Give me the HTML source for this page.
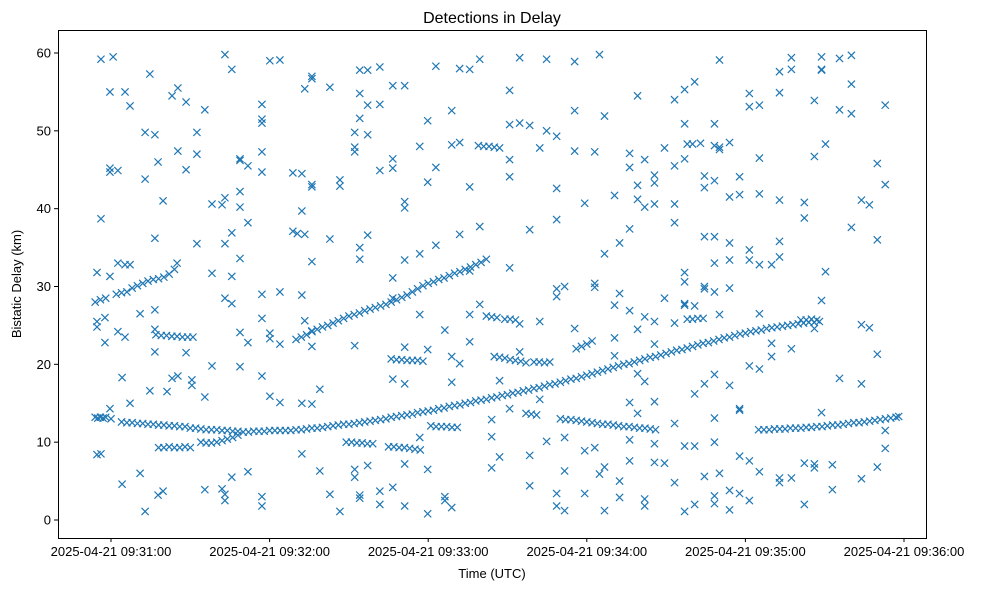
<!DOCTYPE html>
<html><head><meta charset="utf-8"><style>
body{margin:0;background:#fff;}
svg{display:block;font-family:"Liberation Sans","DejaVu Sans",sans-serif;}
</style></head><body>
<svg id="chart" width="987" height="590" xmlns="http://www.w3.org/2000/svg">
<rect width="987" height="590" fill="#fff"/>
<text x="492" y="23" font-size="16" text-anchor="middle">Detections in Delay</text>
<g id="marks"></g>
<rect x="58.5" y="30.5" width="868" height="508" fill="none" stroke="#000" stroke-width="1"/>
<g id="yticks"></g>
<g id="xticks"></g>
<text x="492" y="578" font-size="13" text-anchor="middle">Time (UTC)</text>
<text x="21" y="284" font-size="13" text-anchor="middle" transform="rotate(-90 21 284)">Bistatic Delay (km)</text>
</svg>
<script>
// time in seconds after 09:30:00, delay in km
const yTickValues=[0,10,20,30,40,50,60];
const xTickValues=[60,120,180,240,300,360];
const xTickLabels=["2025-04-21 09:31:00","2025-04-21 09:32:00","2025-04-21 09:33:00","2025-04-21 09:34:00","2025-04-21 09:35:00","2025-04-21 09:36:00"];
const mainTrack=[[128,11.5],[130,11.6],[132,11.6],[134,11.7],[136,11.8],[138,11.8],[140,11.9],[142,12.0],[144,12.1],[146,12.2],[148,12.3],[150,12.3],[152,12.4],[154,12.5],[156,12.6],[158,12.7],[160,12.8],[162,12.9],[164,13.0],[166,13.2],[168,13.3],[170,13.4],[172,13.5],[174,13.6],[176,13.8],[178,13.9],[180,14.0],[182,14.1],[184,14.3],[186,14.4],[188,14.6],[190,14.7],[192,14.8],[194,15.0],[196,15.1],[198,15.3],[200,15.4],[202,15.5],[204,15.7],[206,15.8],[208,16.0],[210,16.1],[212,16.3],[214,16.4],[216,16.6],[218,16.7],[220,16.9],[222,17.0],[224,17.2],[226,17.4],[228,17.5],[230,17.7],[232,17.9],[234,18.1],[236,18.2],[238,18.4],[240,18.6],[242,18.8],[244,19.0],[246,19.2],[248,19.4],[250,19.6],[252,19.8],[254,20.0],[256,20.1],[258,20.3],[260,20.5],[262,20.7],[264,20.9],[266,21.0],[268,21.2],[270,21.4],[272,21.6],[274,21.8],[276,21.9],[278,22.1],[280,22.3],[282,22.5],[284,22.7],[286,22.8],[288,23.0],[290,23.2],[292,23.4],[294,23.5],[296,23.7],[298,23.9],[300,24.0],[302,24.2],[304,24.3],[306,24.4],[308,24.6],[310,24.7],[312,24.8],[314,24.9],[316,25.0],[318,25.1],[320,25.2],[322,25.3],[324,25.4],[326,25.4],[328,25.5]];
const earlyLowTrack=[[54,13.2],[55,13.1],[56,13.2],[57,13.1],[58,13.2],[60,13.0],[64,12.6],[66,12.5],[68,12.5],[70,12.4],[72,12.4],[74,12.3],[76,12.3],[78,12.2],[80,12.2],[82,12.1],[84,12.1],[86,12.0],[88,12.0],[90,11.8],[92,11.8],[94,11.7],[96,11.6],[98,11.6],[100,11.6],[102,11.5],[104,11.5],[106,11.4],[108,11.4],[110,11.3],[112,11.3],[114,11.4],[116,11.4],[118,11.4],[120,11.5],[122,11.5],[124,11.5],[126,11.5]];
const earlyHighTrack=[[54,28.0],[56,28.3],[58,28.5],[62,29.0],[64,29.2],[66,29.3],[68,29.8],[70,30.1],[72,30.4],[74,30.7],[76,30.9],[78,31.0],[80,31.2],[82,31.6],[84,32.2],[85,33.0]];
const midHighTrack=[[130,23.2],[132,23.5],[134,23.8],[136,24.2],[138,24.5],[140,24.8],[142,25.0],[144,25.3],[146,25.6],[148,25.9],[150,26.2],[152,26.4],[154,26.6],[156,26.9],[158,27.1],[160,27.3],[162,27.5],[164,27.7],[166,28.0],[168,28.3],[170,28.6],[172,28.9],[174,29.3],[176,29.7],[178,30.1],[180,30.4],[182,30.6],[184,30.9],[186,31.1],[188,31.4],[190,31.7],[192,31.9],[194,32.2],[196,32.5],[198,32.8],[200,33.1],[202,33.5]];
const lateLowTrack=[[230,13.0],[232,12.9],[234,12.9],[236,12.8],[238,12.7],[240,12.6],[242,12.5],[244,12.4],[246,12.3],[248,12.3],[250,12.2],[252,12.1],[254,12.0],[256,12.0],[258,11.9],[260,11.8],[262,11.8],[264,11.7],[266,11.6],[305,11.6],[307,11.6],[309,11.6],[311,11.7],[313,11.7],[315,11.7],[317,11.8],[319,11.8],[321,11.8],[323,11.9],[325,11.9],[327,12.0],[329,12.0],[331,12.1],[333,12.2],[335,12.2],[337,12.3],[339,12.4],[341,12.5],[343,12.5],[345,12.6],[347,12.7],[349,12.8],[351,12.9],[353,13.0],[355,13.1],[357,13.2],[358,13.3]];
const shortSegments=[[78,9.3],[80,9.3],[82,9.4],[84,9.3],[86,9.3],[88,9.4],[90,9.3],[94,10.0],[96,9.9],[98,9.9],[100,10.0],[102,10.2],[104,10.4],[106,10.6],[108,10.9],[77,23.8],[79,23.7],[81,23.7],[83,23.6],[85,23.6],[87,23.5],[89,23.5],[91,23.5],[149,10.0],[151,10.0],[153,9.9],[155,9.9],[157,9.8],[159,9.8],[165,9.4],[167,9.4],[169,9.3],[171,9.3],[173,9.2],[175,9.1],[177,9.0],[181,12.1],[183,12.0],[185,12.0],[187,12.0],[189,11.9],[191,11.9],[166,20.7],[168,20.6],[170,20.6],[172,20.5],[174,20.5],[176,20.5],[178,20.4],[199,48.1],[201,48.0],[203,48.0],[205,47.9],[207,47.8],[202,26.2],[204,26.1],[206,26.0],[205,21.0],[207,20.9],[209,20.8],[211,20.6],[213,20.5],[215,20.4],[217,20.2],[209,25.8],[211,25.8],[213,25.7],[217,13.7],[219,13.6],[221,13.5],[220,20.3],[222,20.3],[224,20.2],[226,20.3],[236,22.0],[238,22.3],[240,22.6],[242,23.0],[278,25.8],[280,25.8],[282,25.9],[284,25.9],[278,48.3],[280,48.3],[283,48.4],[321,25.7],[323,25.7],[325,25.8],[327,25.7]];
const scatterPoints=[[54.7,31.8],[54.7,25.5],[54.7,24.8],[54.7,8.4],[56.2,59.2],[56.2,38.7],[56.2,8.5],[57.7,26],[57.7,22.8],[59.6,55],[59.6,45.2],[59.6,44.7],[59.6,14.3],[59.6,31.3],[60.8,59.5],[62.6,33],[62.6,24.2],[62.6,44.9],[64.2,18.3],[64.2,4.6],[65.3,55],[65.3,32.8],[65.3,23.5],[67.2,53.2],[67.2,32.8],[67.2,15],[71,26.5],[71,6],[72.9,49.8],[72.9,43.8],[72.9,1.1],[74.7,57.3],[74.7,16.6],[76.6,49.5],[76.6,36.2],[76.6,27],[76.6,21.6],[76.6,24.5],[77.8,46],[77.8,3.2],[79.7,41],[79.7,3.7],[81.2,16.5],[83.1,54.5],[83.1,18.2],[85.3,55.5],[85.3,47.4],[85.3,18.5],[88.4,53.7],[88.4,45],[88.4,21.5],[90.6,18],[90.6,17.3],[92.5,35.5],[92.5,49.8],[92.5,47],[95.5,52.7],[95.5,3.9],[95.5,15.8],[98.2,40.6],[98.2,19.8],[98.2,31.7],[102,40.5],[102,4],[103.1,59.8],[103.1,41.4],[103.1,35.5],[103.1,28.5],[103.1,3.3],[103.1,2.5],[105.7,57.9],[105.7,27.8],[105.7,31.3],[105.7,36.9],[105.7,5.5],[108.8,33.6],[108.8,40.2],[108.8,42.2],[108.8,46.2],[108.8,46.4],[108.8,24.1],[108.8,19.7],[111.8,45.5],[111.8,22.8],[111.8,38.2],[111.8,6.2],[117.1,47.3],[117.1,44.7],[117.1,51],[117.1,51.5],[117.1,53.4],[117.1,18.5],[117.1,25.9],[117.1,29],[117.1,3],[117.1,1.8],[120.1,59],[120.1,15.9],[120.1,24],[120.1,23.3],[123.9,59.1],[123.9,29.3],[123.9,22.6],[123.9,15.1],[128.8,37.1],[128.8,44.6],[130.5,36.8],[132.2,44.5],[132.2,39.7],[132.2,28.9],[132.2,8.5],[132.2,15],[133.3,55.4],[133.3,25.6],[133.3,36.7],[136,57],[136,56.7],[136,42.8],[136,43.1],[136,33.2],[136,22.3],[136,24.3],[136,14.9],[139,16.8],[139,6.3],[142.8,3.3],[142.8,55.6],[142.8,36.1],[146.6,1.1],[146.6,42.9],[146.6,43.7],[152.2,49.8],[152.2,47.9],[152.2,47.3],[152.2,22.4],[152.2,6.5],[152.2,5.5],[154.1,2.8],[154.1,3.2],[154.1,33.5],[154.1,35],[154.1,57.8],[154.1,54.8],[154.1,51.6],[157.1,57.8],[157.1,53.3],[157.1,7],[157.1,49.5],[157.1,36.6],[161.7,58.2],[161.7,3.7],[161.7,2],[161.7,53.4],[161.7,44.9],[166.6,55.8],[166.6,45.2],[166.6,46.4],[166.6,28.5],[166.6,31.1],[166.6,4.2],[166.6,18.1],[171.1,55.8],[171.1,40.9],[171.1,40.1],[171.1,1.8],[171.1,33.4],[171.1,22.2],[171.1,17.5],[171.1,7.2],[176.8,34.2],[176.8,48],[176.8,26.4],[176.8,10.6],[179.8,51.3],[179.8,43.4],[179.8,0.8],[179.8,6.5],[179.8,21.9],[182.9,58.3],[182.9,45.3],[182.9,35.3],[186.3,3],[186.3,2.5],[186.3,24.4],[188.9,52.6],[188.9,48.2],[188.9,21],[188.9,17.7],[188.9,1.6],[191.9,58],[191.9,48.5],[191.9,36.7],[191.9,20.1],[195.7,57.9],[195.7,42.8],[195.7,26.4],[195.7,32],[195.7,22.9],[199.5,59.2],[199.5,37.7],[199.5,27.7],[204,6.7],[204,10.7],[204,12.9],[207,8.1],[207,17.9],[210.8,55.2],[210.8,44.1],[210.8,32.4],[210.8,14.3],[210.8,50.8],[210.8,46.3],[214.6,51],[214.6,59.4],[214.6,21.6],[214.6,25.2],[218.4,50.7],[218.4,37.3],[218.4,8.3],[218.4,4.4],[222.2,47.8],[222.2,25.5],[222.2,15.5],[224.8,59.2],[224.8,50],[224.8,10.1],[228.6,49.3],[228.6,42.6],[228.6,38.6],[228.6,29.7],[228.6,28.7],[228.6,1.8],[228.6,3.4],[231.6,30],[231.6,10.6],[231.6,1.2],[231.6,6.3],[235.4,58.9],[235.4,52.6],[235.4,47.4],[235.4,24.6],[239.2,40.7],[239.2,3.4],[239.2,8.9],[243,47.3],[243,29.9],[243,30.4],[243,9.3],[244.8,59.8],[244.8,5.9],[246.7,51.9],[246.7,34.2],[246.7,6.8],[246.7,1.2],[250.5,41.7],[250.5,27.6],[250.5,23.4],[250.5,21.1],[252.4,29.1],[252.4,35.6],[252.4,2.9],[252.4,5],[256.2,47.1],[256.2,45.3],[256.2,37.4],[256.2,26.9],[256.2,7.6],[256.2,15.1],[256.2,10.3],[259.2,54.5],[259.2,43],[259.2,41.2],[259.2,24.5],[259.2,18.8],[259.2,13.7],[261.9,40.2],[261.9,46.3],[261.9,26.1],[261.9,17.8],[261.9,2.7],[261.9,1.8],[265.6,44.3],[265.6,40.6],[265.6,43.3],[265.6,25.5],[265.6,22.6],[265.6,7.4],[265.6,9.8],[265.6,15.2],[269.4,47.8],[269.4,28.5],[269.4,7.3],[273.2,54],[273.2,45.5],[273.2,40.6],[273.2,38.2],[273.2,25.3],[273.2,12.4],[273.2,4.8],[277,55.3],[277,50.9],[277,46.4],[277,30.6],[277,27.8],[277,27.6],[277,9.5],[277,1.1],[277,31.8],[280.8,56.3],[280.8,27.5],[280.8,16.2],[280.8,9.5],[280.8,2],[284.5,44.2],[284.5,42.7],[284.5,36.4],[284.5,30],[284.5,29.7],[284.5,17.5],[284.5,5.6],[288.3,50.9],[288.3,48.1],[288.3,43.6],[288.3,36.4],[288.3,33],[288.3,29.3],[288.3,18.7],[288.3,13.1],[288.3,10],[288.3,2.1],[288.3,3.1],[290.2,59.1],[290.2,47.6],[290.2,47.9],[290.2,26.4],[290.2,6],[294,48.5],[294,41.5],[294,35.6],[294,33.4],[294,29.8],[294,17.3],[294,1.3],[294,3.8],[297.8,44.1],[297.8,41.8],[297.8,14.1],[297.8,14.3],[297.8,8.2],[297.8,3.4],[301.5,54.8],[301.5,53.1],[301.5,34.7],[301.5,33.4],[301.5,19.8],[301.5,7.6],[301.5,2.5],[305.3,53.3],[305.3,46.5],[305.3,41.9],[305.3,32.8],[305.3,26.5],[305.3,19.4],[305.3,6.2],[309.9,32.8],[309.9,22.7],[309.9,21],[312.9,54.9],[312.9,41.1],[312.9,57.6],[312.9,35.8],[312.9,33.8],[312.9,5.4],[312.9,4.8],[317.4,57.9],[317.4,59.4],[317.4,22],[317.4,5.4],[322.3,40.8],[322.3,38.8],[322.3,2],[322.3,7.3],[326.1,53.9],[326.1,46.7],[326.1,24.6],[326.1,7.2],[326.1,6.7],[328.8,57.9],[328.8,59.5],[328.8,57.8],[328.8,13.8],[328.8,28.2],[330.3,48.3],[330.3,31.9],[332.9,3.9],[332.9,7.1],[335.6,59.3],[335.6,52.7],[335.6,18.2],[340.1,59.7],[340.1,56],[340.1,52.2],[340.1,37.6],[343.9,41.1],[343.9,25.1],[343.9,17.5],[343.9,5.3],[346.9,40.5],[346.9,24.7],[349.9,45.8],[349.9,36],[349.9,21.3],[349.9,6.8],[352.9,53.3],[352.9,43.1],[352.9,11.5],[352.9,9.2]];

const X0=58,X1=926,Y0=30,Y1=538;
function xScale(t){return 111+(t-60)*158.6/60;}
function yScale(d){return 520-d*(467/60);}
const NS="http://www.w3.org/2000/svg";
const marks=document.getElementById('marks');
function drawSeries(arr,name){
  const g=document.createElementNS(NS,'g');
  
  
  arr.forEach(p=>{
    const x=xScale(p[0]),y=yScale(p[1]),r=3.6;
    const path=document.createElementNS(NS,'path');
    path.setAttribute('d',`M${x-r},${y-r}L${x+r},${y+r}M${x-r},${y+r}L${x+r},${y-r}`);
    path.setAttribute('stroke','#1f77b4');
    path.setAttribute('stroke-width','1.2');
    path.setAttribute('fill','none');
    
    
    g.appendChild(path);
  });
  marks.appendChild(g);
}
drawSeries(mainTrack,'main-track');
drawSeries(earlyLowTrack,'early-low-track');
drawSeries(earlyHighTrack,'early-high-track');
drawSeries(midHighTrack,'mid-high-track');
drawSeries(lateLowTrack,'late-low-track');
drawSeries(shortSegments,'short-segments');
drawSeries(scatterPoints,'scattered-detections');

const yt=document.getElementById('yticks');
yTickValues.forEach(v=>{
  const y=yScale(v);
  const l=document.createElementNS(NS,'line');
  l.setAttribute('x1',X0-4);l.setAttribute('x2',X0);l.setAttribute('y1',y);l.setAttribute('y2',y);
  l.setAttribute('stroke','#000');
  
  
  yt.appendChild(l);
  const t=document.createElementNS(NS,'text');
  t.setAttribute('x',X0-7);t.setAttribute('y',y+4.5);
  t.setAttribute('font-size','13');t.setAttribute('text-anchor','end');
  t.textContent=v;
  
  
  yt.appendChild(t);
});
const xt=document.getElementById('xticks');
xTickValues.forEach((v,i)=>{
  const x=xScale(v);
  const l=document.createElementNS(NS,'line');
  l.setAttribute('x1',x);l.setAttribute('x2',x);l.setAttribute('y1',Y1);l.setAttribute('y2',Y1+4);
  l.setAttribute('stroke','#000');
  
  
  xt.appendChild(l);
  const t=document.createElementNS(NS,'text');
  t.setAttribute('x',x);t.setAttribute('y',Y1+18);
  t.setAttribute('font-size','13');t.setAttribute('text-anchor','middle');
  t.textContent=xTickLabels[i];
  
  
  xt.appendChild(t);
});
</script>
</body></html>
